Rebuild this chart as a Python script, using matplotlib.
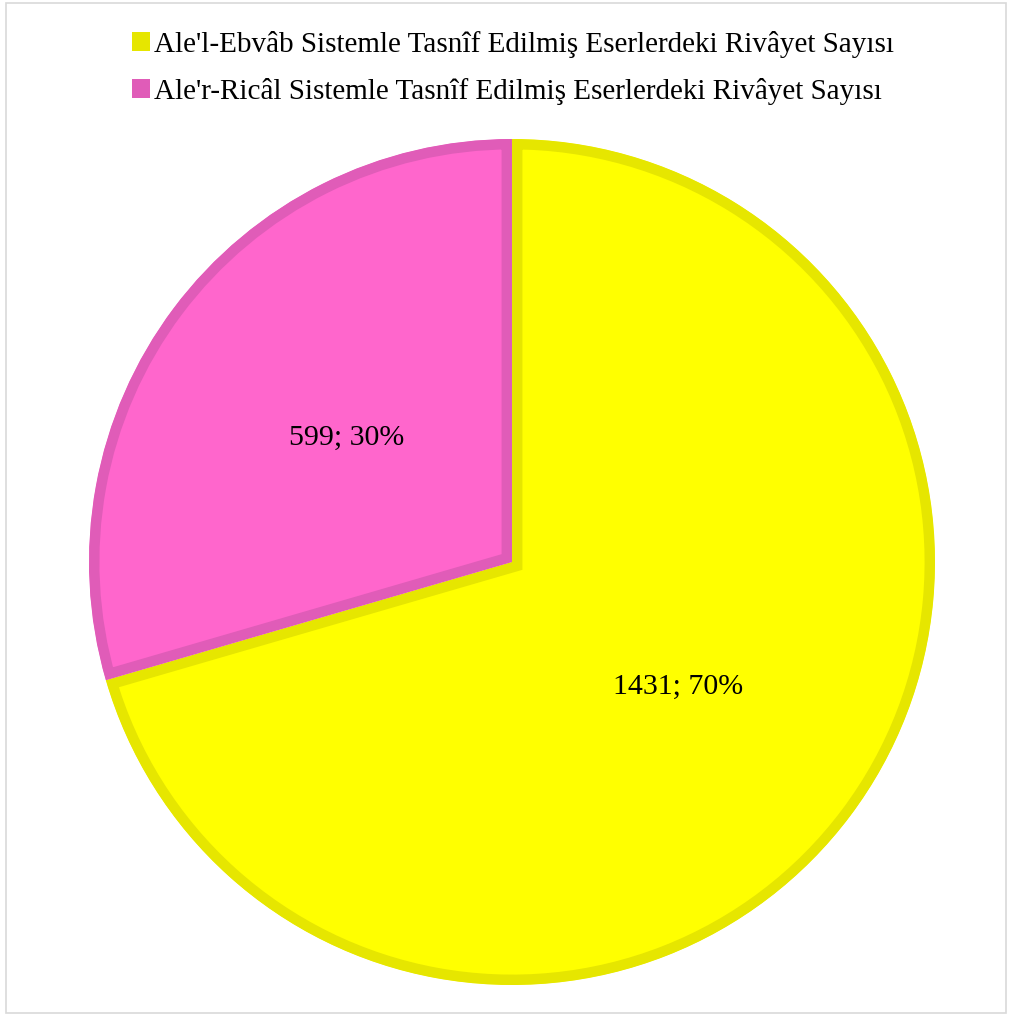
import numpy as np
import matplotlib.pyplot as plt
from matplotlib.patches import Patch, Rectangle

labels = ["Ale'l-Ebvâb Sistemle Tasnîf Edilmiş Eserlerdeki Rivâyet Sayısı",
          "Ale'r-Ricâl Sistemle Tasnîf Edilmiş Eserlerdeki Rivâyet Sayısı"]
values = [1431, 599]
face_colors = ["#FFFF00", "#FF66CC"]
edge_colors = ["#E6E600", "#E05CB8"]

plt.rcParams['font.family'] = ['Liberation Serif', 'DejaVu Serif']

fig = plt.figure(figsize=(10.10, 10.16), dpi=100)
fig.patches.append(Rectangle((6 / 1010, 3 / 1016), 1000 / 1010, 1010 / 1016,
                             transform=fig.transFigure, fill=False,
                             edgecolor="#D9D9D9", linewidth=1.2))

ax = fig.add_axes([89 / 1010, 31 / 1016, 846 / 1010, 846 / 1016])
total = sum(values)

wedges = ax.pie(values, colors=face_colors, startangle=90, counterclock=False,
                radius=1)[0]
# stroke drawn on the inside of each slice only
for w, ec in zip(wedges, edge_colors):
    w.set_edgecolor(ec)
    w.set_linewidth(15)
    w.set_clip_path(w)
    w.set_clip_on(True)

for w, v in zip(wedges, values):
    mid = np.deg2rad((w.theta1 + w.theta2) / 2)
    pct = v / total * 100
    ax.text(0.49 * np.cos(mid), 0.49 * np.sin(mid), f"{v}; {pct:.0f}%",
            ha="center", va="center", fontsize=21.5, color="black")

ax.set_xlim(-1, 1)
ax.set_ylim(-1, 1)
ax.set_aspect("equal")
ax.axis("off")

handles = [Patch(facecolor=c, edgecolor="none") for c in edge_colors]
fig.legend(handles, labels, loc="upper center", bbox_to_anchor=(0.508, 0.981),
           frameon=False, fontsize=21, handlelength=0.6, handleheight=0.6,
           handletextpad=0.15, labelspacing=0.68, borderaxespad=0)

fig.savefig("out.png", dpi=100)
